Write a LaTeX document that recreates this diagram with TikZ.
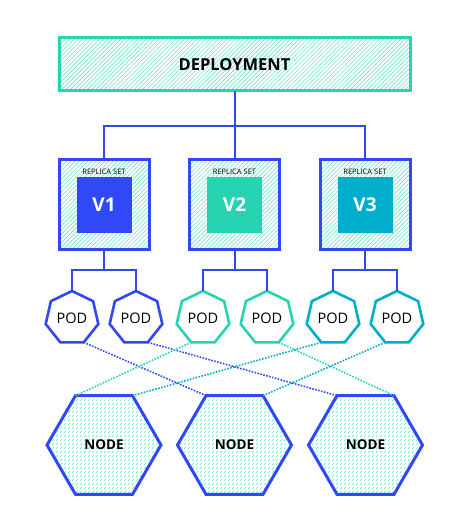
\documentclass[tikz,border=0pt]{standalone}
\usepackage{fontspec}
\setmainfont{Open Sans}
\usetikzlibrary{shapes.geometric,patterns,patterns.meta}
\definecolor{kblue}{RGB}{48,72,245}
\definecolor{kgreen}{RGB}{38,212,178}
\definecolor{kcyan}{RGB}{0,174,204}
\definecolor{khatch}{RGB}{110,224,200}
\pgfdeclarepatternformonly{dashhatch}{\pgfpointorigin}{\pgfpoint{4pt}{4pt}}{\pgfpoint{4pt}{4pt}}{%
  \pgfsetlinewidth{0.7pt}%
  \pgfpathmoveto{\pgfpoint{0.3pt}{0.3pt}}%
  \pgfpathlineto{\pgfpoint{2.2pt}{2.2pt}}%
  \pgfusepath{stroke}}
\begin{document}
\begin{tikzpicture}[x=1pt,y=-1pt,
  hatchfill/.style={pattern={Lines[angle=45,distance=3pt,line width=0.6pt]},pattern color=khatch},
  deploybox/.style={draw=kgreen,line width=3pt,hatchfill,minimum width=351pt,minimum height=53pt,inner sep=0pt,
     font=\fontsize{16.5}{19}\selectfont\bfseries},
  rsbox/.style={draw=kblue,line width=3pt,hatchfill,minimum width=90pt,minimum height=89pt,inner sep=0pt},
  rslabel/.style={font=\fontsize{7.5}{9}\selectfont,inner sep=0pt},
  vbox/.style={minimum size=55pt,inner sep=0pt,text=white,font=\fontsize{19}{22}\selectfont\bfseries},
  podshape/.style={regular polygon,regular polygon sides=7,minimum size=54pt,inner sep=0pt,outer sep=0pt,
     line width=2.6pt,fill=white,font=\fontsize{14.5}{17}\selectfont},
  nodeshape/.style={regular polygon,regular polygon sides=6,minimum size=114pt,inner sep=0pt,outer sep=0pt,
     draw=kblue,line width=3pt,pattern=dashhatch,pattern color=khatch,font=\fontsize{13.5}{16}\selectfont\bfseries},
  conn/.style={draw=kblue,line width=2pt},
  dotconn/.style={line width=1.6pt,dash pattern=on 1.6pt off 1.4pt}
]
\useasboundingbox (0,0) rectangle (471,529);
% deployment
\node[deploybox] (dep) at (234.5,64.5) {DEPLOYMENT};
% replica sets
\node[rsbox] (rs1) at (104,204.5) {};
\node[rsbox] (rs2) at (234.5,204.5) {};
\node[rsbox] (rs3) at (365,204.5) {};
\node[rslabel] (l1) at (104,171.5) {REPLICA SET};
\node[rslabel] (l2) at (234.5,171.5) {REPLICA SET};
\node[rslabel] (l3) at (365,171.5) {REPLICA SET};
\node[vbox,fill=kblue] (v1) at (104,205) {V1};
\node[vbox,fill=kgreen] (v2) at (234.5,205) {V2};
\node[vbox,fill=kcyan] (v3) at (365,205) {V3};
% tree from deployment
\coordinate (j0) at (234.5,126);
\draw[conn] (dep.south) -- (j0);
\draw[conn] (rs1.north) |- (j0) -| (rs3.north);
\draw[conn] (j0) -- (rs2.north);
% pods
\node[podshape,draw=kblue] (p1) at (72,318) {POD};
\node[podshape,draw=kblue] (p2) at (136,318) {POD};
\node[podshape,draw=kgreen] (p3) at (203,318) {POD};
\node[podshape,draw=kgreen] (p4) at (267,318) {POD};
\node[podshape,draw=kcyan] (p5) at (333,318) {POD};
\node[podshape,draw=kcyan] (p6) at (397,318) {POD};
\coordinate (j1) at (104,270);
\coordinate (j2) at (234.5,270);
\coordinate (j3) at (365,270);
\draw[conn] (rs1.south) -- (j1);
\draw[conn] (rs2.south) -- (j2);
\draw[conn] (rs3.south) -- (j3);
\draw[conn] (p1.north) |- (j1) -| (p2.north);
\draw[conn] (p3.north) |- (j2) -| (p4.north);
\draw[conn] (p5.north) |- (j3) -| (p6.north);
% worker nodes
\node[nodeshape] (n1) at (104,445) {NODE};
\node[nodeshape] (n2) at (234.5,445) {NODE};
\node[nodeshape] (n3) at (365.5,445) {NODE};
% dotted scheduling lines
\draw[dotconn,kblue] (p1.corner 5) -- (n2.120);
\draw[dotconn,kblue] (p2.corner 5) -- (n3.120);
\draw[dotconn,kgreen] (p3.corner 4) -- (n1.120);
\draw[dotconn,kgreen] (p4.corner 5) -- (n3.60);
\draw[dotconn,kcyan] (p5.corner 4) -- (n1.60);
\draw[dotconn,kcyan] (p6.corner 4) -- (n2.60);
\end{tikzpicture}
\end{document}
